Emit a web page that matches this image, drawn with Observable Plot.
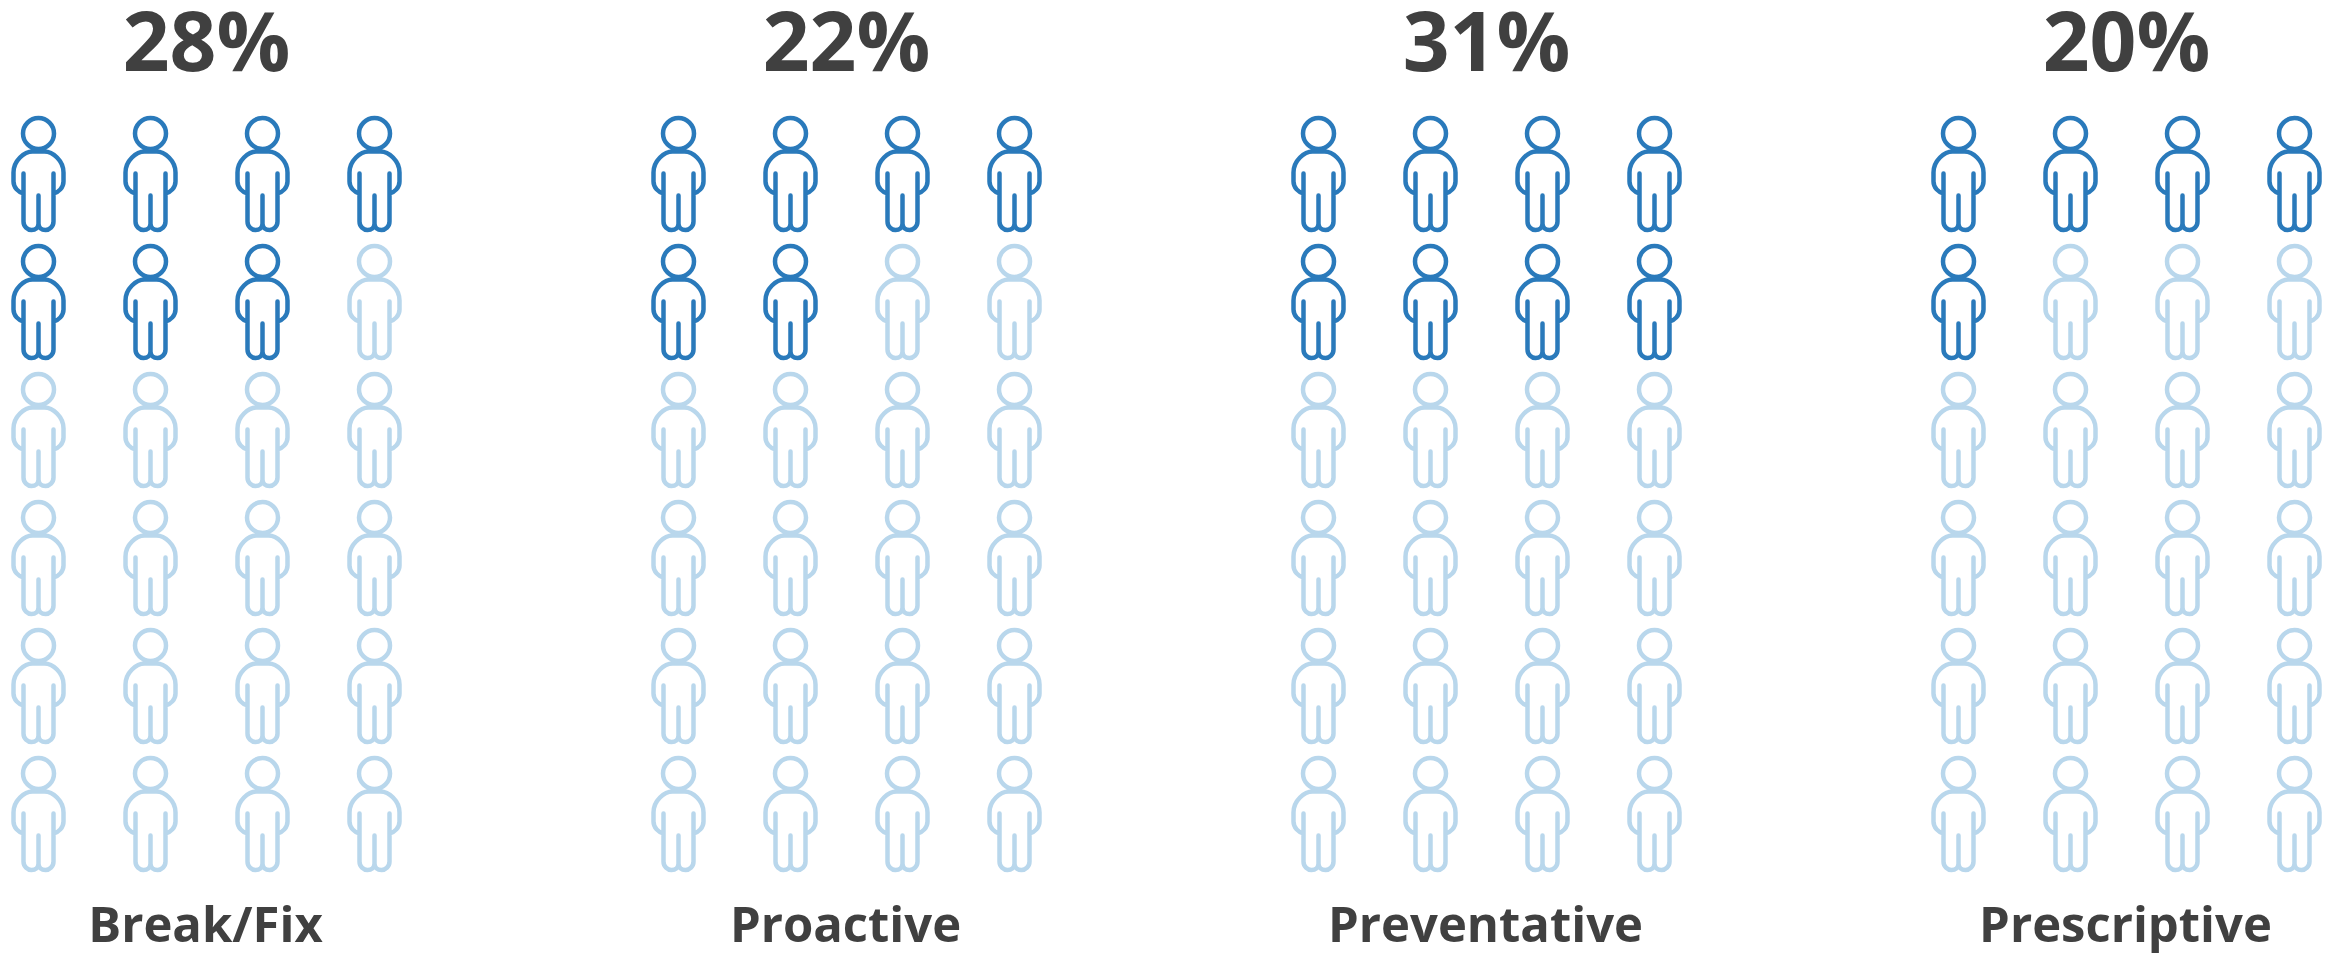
<!DOCTYPE html>
<html>
<head>
<meta charset="utf-8">
<script src="https://cdn.jsdelivr.net/npm/d3@7"></script>
<script src="https://cdn.jsdelivr.net/npm/@observablehq/plot@0.6"></script>
<style>
  html, body { margin: 0; padding: 0; background: #fff; }
  svg { display: block; }
</style>
</head>
<body>
<div id="chart"></div>
<script>
// Maintenance approaches and their share of respondents
const categories = ["Break/Fix", "Proactive", "Preventative", "Prescriptive"];
const percentages = [28, 22, 31, 20];
// Figures highlighted out of each 4 x 6 grid
const highlighted = [7, 6, 8, 5];
const columns = [0, 1, 2, 3];
const rows = [0, 1, 2, 3, 4, 5];

const activeColor = "#2a7abb";
const mutedColor = "#b9d7ec";
const textColor = "#404040";
const iconRadius = 10;

// Outline of a standing person, drawn around the dot's centre
const person = {
  draw(context, size) {
    const s = Math.sqrt(size / Math.PI) / iconRadius;
    const M = (x, y) => context.moveTo(x * s, y * s);
    const L = (x, y) => context.lineTo(x * s, y * s);
    const C = (a, b, c, d, e, f) => context.bezierCurveTo(a * s, b * s, c * s, d * s, e * s, f * s);
    // head
    M(15.5, -41);
    context.arc(0, -41 * s, 15.5 * s, 0, 2 * Math.PI);
    // shoulders and arms
    M(-15, 19);
    C(-20, 18, -25, 13, -25, 7);
    L(-25, -2);
    C(-25, -14, -14, -23, -6, -23);
    L(6, -23);
    C(14, -23, 25, -14, 25, -2);
    L(25, 7);
    C(25, 13, 20, 18, 15, 19);
    // legs
    M(-15, -1);
    L(-15, 47);
    C(-15, 52, -11, 55.5, -7, 55.5);
    C(-3, 55.5, 0, 53, 0, 49);
    L(0, 21);
    M(0, 49);
    C(0, 53, 3, 55.5, 7, 55.5);
    C(11, 55.5, 15, 52, 15, 47);
    L(15, -1);
  }
};

const people = categories.flatMap((category, c) =>
  rows.flatMap((row, r) =>
    columns.map((column, k) => ({
      category,
      column,
      row,
      active: r * columns.length + k < highlighted[c]
    }))
  )
);
const summary = categories.map((category, c) => ({
  category,
  label: `${percentages[c]}%`
}));

const chart = Plot.plot({
  width: 2341,
  height: 953,
  marginLeft: 38,
  marginRight: 47,
  marginTop: 174,
  marginBottom: 139,
  style: { background: "#fff", fontFamily: "'Open Sans', sans-serif" },
  fx: { domain: categories, paddingInner: 0.475, paddingOuter: 0, axis: null },
  x: { domain: [0, 3], axis: null },
  y: { domain: [5, 0], axis: null },
  marks: [
    Plot.dot(people, {
      fx: "category",
      x: "column",
      y: "row",
      r: iconRadius,
      symbol: person,
      fill: "none",
      stroke: (d) => (d.active ? activeColor : mutedColor),
      strokeWidth: 4.5,
      strokeLinecap: "round",
      strokeLinejoin: "round"
    }),
    Plot.text(summary, {
      fx: "category",
      x: () => 1.5,
      frameAnchor: "top",
      lineAnchor: "bottom",
      dy: -104,
      text: "label",
      fontSize: 82,
      fontWeight: 700,
      fill: textColor
    }),
    Plot.text(summary, {
      fx: "category",
      x: () => 1.5,
      frameAnchor: "bottom",
      lineAnchor: "bottom",
      dx: -1,
      dy: 127,
      text: "category",
      fontSize: 49,
      fontWeight: 700,
      fill: textColor
    })
  ]
});
document.getElementById("chart").appendChild(chart);
</script>
</body>
</html>
